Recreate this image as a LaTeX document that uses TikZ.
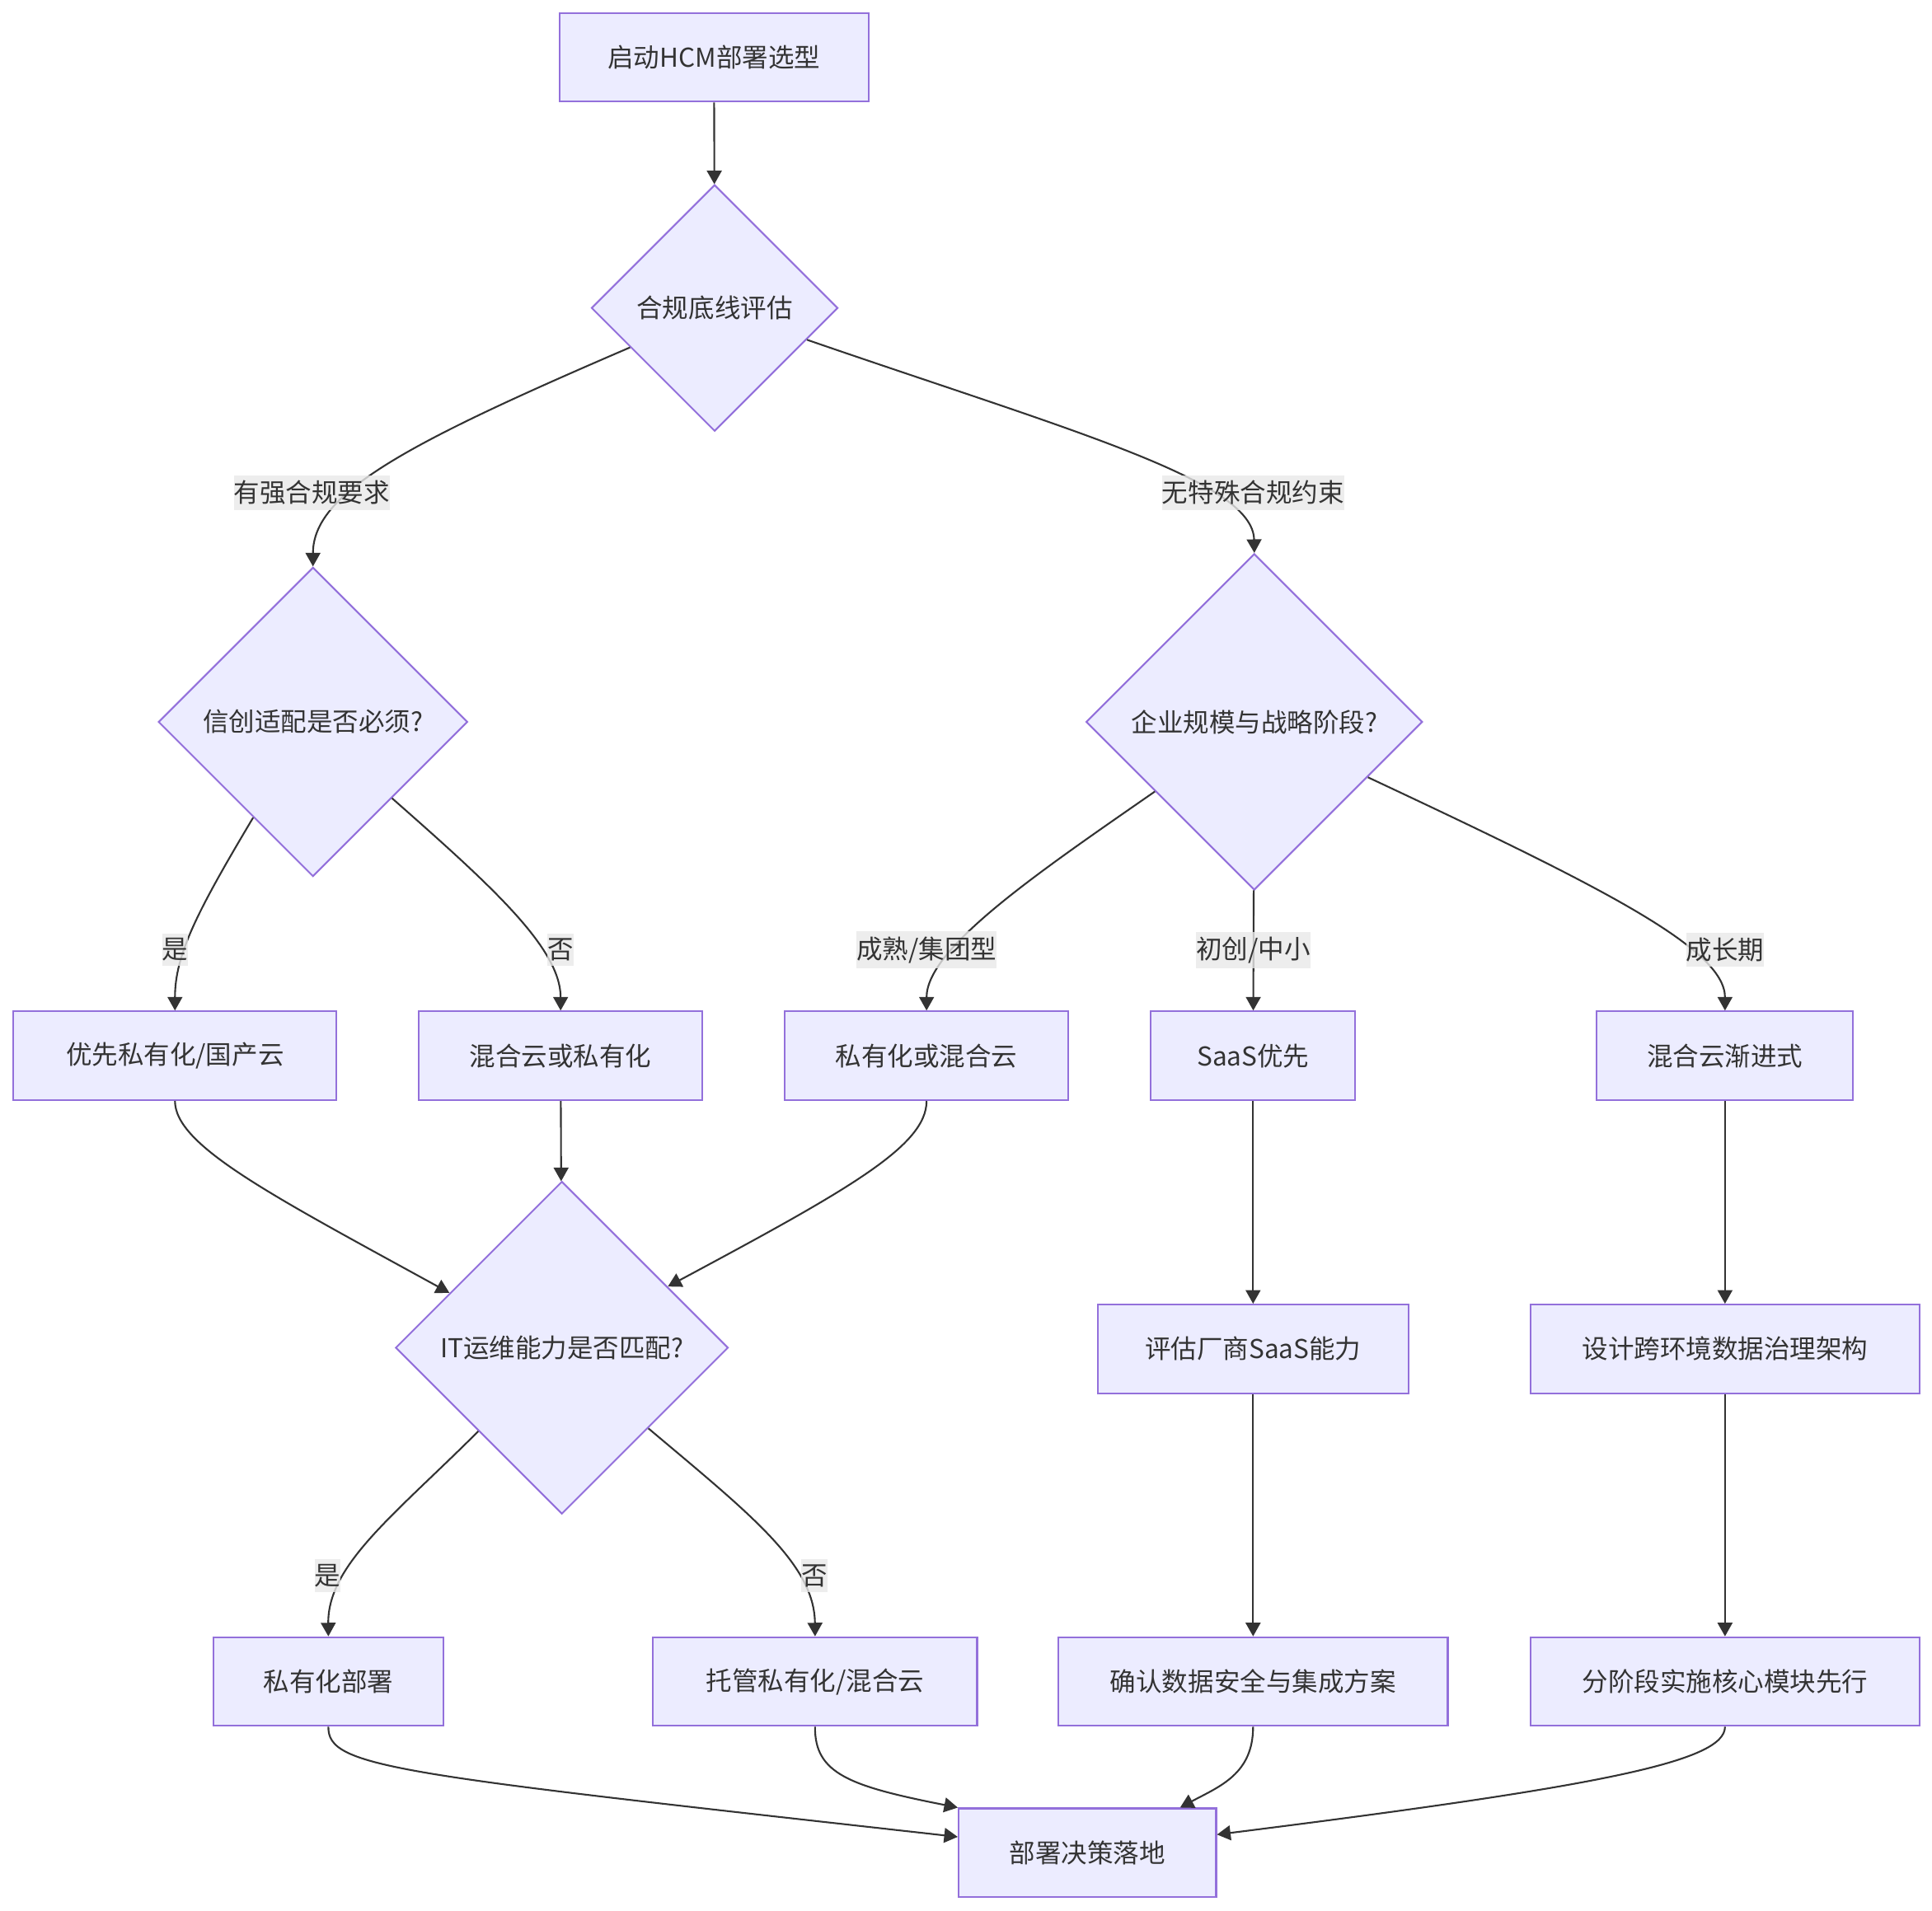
\documentclass[tikz,border=0pt]{standalone}
\usepackage{fontspec}
\newfontfamily\cjk{Noto Sans CJK SC}
\usepackage{xcolor}
\usetikzlibrary{
  positioning,
  arrows.meta,
  shapes.geometric,
  calc
}
\definecolor{nodefill}{HTML}{ECECFF}
\definecolor{nodeline}{HTML}{9370DB}
\definecolor{edgeline}{HTML}{333333}
\definecolor{labelbg}{HTML}{E8E8E8}
\tikzset{
  >={Triangle[length=1.1mm,width=1.2mm]},
  flowarrow/.style={->,draw=edgeline,line width=0.4pt},
  process/.style={rectangle,draw=nodeline,fill=nodefill,line width=0.4pt,minimum height=7.2mm,inner sep=0pt,text=edgeline},
  decision/.style={diamond,draw=nodeline,fill=nodefill,line width=0.4pt,inner sep=0pt,text=edgeline},
  edgelabel/.style={fill=labelbg,fill opacity=0.8,text opacity=1,text=edgeline,inner xsep=0pt,inner ysep=0.4mm}
}

\begin{document}
\begin{tikzpicture}[x=0.1mm,y=-0.1mm,font=\cjk\fontsize{6}{7.2}\selectfont]
    \useasboundingbox (0,0) rectangle (1568,1551);
    % Knoten
    \node[process,minimum width=25.1mm] (start) at (579.5,46.5) {启动HCM部署选型};
    \node[decision,minimum width=20mm,minimum height=20mm] (q1) at (580,250) {合规底线评估};
    \node[decision,minimum width=25.1mm,minimum height=25.1mm] (q2) at (254,586) {信创适配是否必须?};
    \node[decision,minimum width=27.3mm,minimum height=27.3mm] (q3) at (1018,586) {企业规模与战略阶段?};
    \node[process,minimum width=26.2mm] (b1) at (142,857) {优先私有化/国产云};
    \node[process,minimum width=23mm] (b2) at (455,857) {混合云或私有化};
    \node[process,minimum width=23mm] (b3) at (752,857) {私有化或混合云};
    \node[process,minimum width=16.6mm] (b4) at (1017,857) {SaaS优先};
    \node[process,minimum width=20.8mm] (b5) at (1400,857) {混合云渐进式};
    \node[decision,minimum width=27mm,minimum height=27mm] (q4) at (456,1094) {IT运维能力是否匹配?};
    \node[process,minimum width=25.2mm] (c1) at (1017,1095) {评估厂商SaaS能力};
    \node[process,minimum width=31.6mm] (c2) at (1400,1095) {设计跨环境数据治理架构};
    \node[process,minimum width=18.7mm] (e1) at (266.5,1365) {私有化部署};
    \node[process,minimum width=26.3mm] (e2) at (661.5,1365) {托管私有化/混合云};
    \node[process,minimum width=31.6mm] (e3) at (1017,1365) {确认数据安全与集成方案};
    \node[process,minimum width=31.6mm] (e4) at (1400,1365) {分阶段实施核心模块先行};
    \node[process,minimum width=20.9mm] (end) at (882.5,1504) {部署决策落地};

    % gerade Kanten
    \foreach \a/\b in {start/q1,b2/q4,q3/b4,b4/c1,c1/e3,b5/c2,c2/e4}
        \draw[flowarrow] (\a) -- (\b);

    % gebogene Kanten
    \draw[flowarrow] (q1.205) .. controls (330,360) and (254,400) .. (q2.north);
    \draw[flowarrow] (q1.-19) .. controls (870,350) and (1017,390) .. (q3.north);
    \draw[flowarrow] (q2.238) .. controls (160,740) and (142,775) .. (b1.north);
    \draw[flowarrow] (q2.-44) .. controls (400,720) and (455,770) .. (b2.north);
    \draw[flowarrow] (q3.215) .. controls (840,710) and (752,770) .. (b3.north);
    \draw[flowarrow] (q3.-26) .. controls (1300,720) and (1400,770) .. (b5.north);
    \draw[flowarrow] (b1.south) .. controls (142,930) and (220,970) .. (q4.154);
    \draw[flowarrow] (b3.south) .. controls (752,930) and (690,965) .. (q4.30);
    \draw[flowarrow] (q4.225) .. controls (320,1230) and (266,1270) .. (e1.north);
    \draw[flowarrow] (q4.-43) .. controls (610,1230) and (661,1270) .. (e2.north);
    \draw[flowarrow] (e1.south) .. controls (266,1435) and (320,1440) .. (end.173);
    \draw[flowarrow] (e2.south) .. controls (661,1440) and (690,1450) .. (end.north west);
    \draw[flowarrow] (e3.south) .. controls (1017,1440) and (990,1450) .. (end.26);
    \draw[flowarrow] (e4.south) .. controls (1400,1430) and (1300,1450) .. (end.8);

    % Beschriftungen
    \node[edgelabel] (l1) at (253,400) {有强合规要求};
    \node[edgelabel] (l2) at (1017,400) {无特殊合规约束};
    \node[edgelabel] (l3) at (142,771) {是};
    \node[edgelabel] (l4) at (455,771) {否};
    \node[edgelabel] (l5) at (752,771) {成熟/集团型};
    \node[edgelabel] (l6) at (1017,771) {初创/中小};
    \node[edgelabel] (l7) at (1400,771) {成长期};
    \node[edgelabel] (l8) at (266,1279) {是};
    \node[edgelabel] (l9) at (661,1279) {否};
\end{tikzpicture}
\end{document}
